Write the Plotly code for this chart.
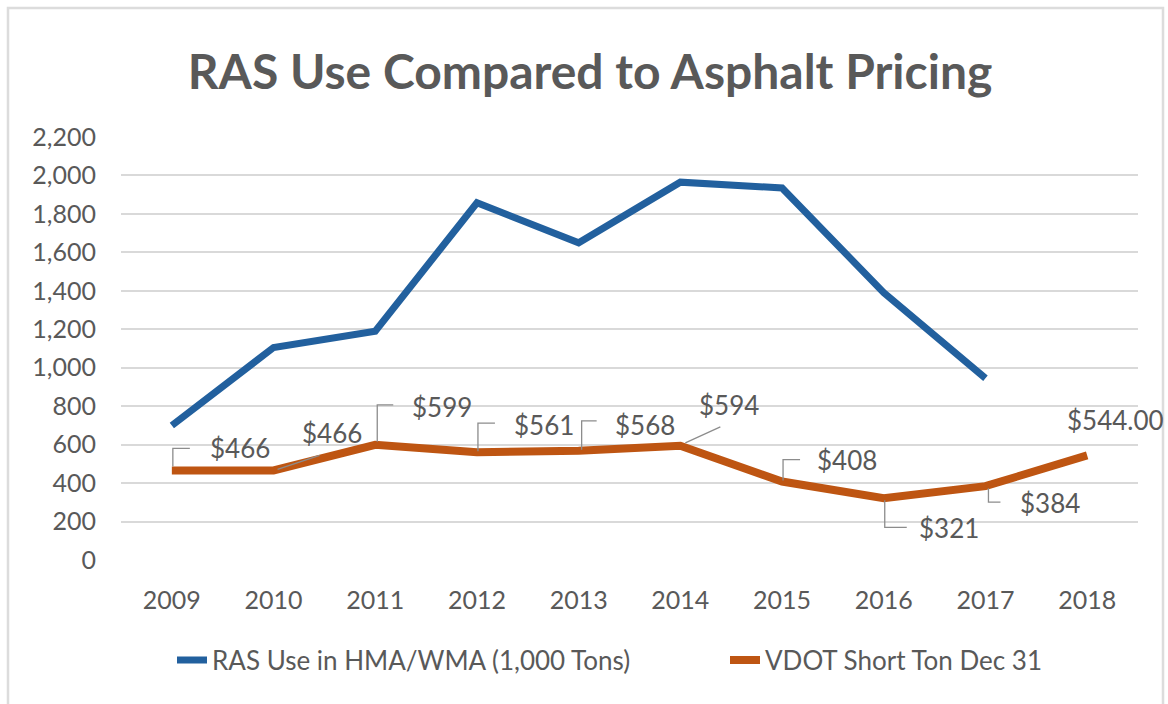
import plotly.graph_objects as go

# Chart data
years = [2009, 2010, 2011, 2012, 2013, 2014, 2015, 2016, 2017, 2018]
ras_use = [700, 1105, 1190, 1858, 1650, 1965, 1935, 1390, 945, None]  # 1,000 tons
vdot_price = [466, 466, 599, 561, 568, 594, 408, 321, 384, 544]
price_labels = ["$466", "$466", "$599", "$561", "$568", "$594", "$408", "$321", "$384", "$544.00"]
y_ticks = [0, 200, 400, 600, 800, 1000, 1200, 1400, 1600, 1800, 2000, 2200]

BLUE = "#22609E"
ORANGE = "#BE5512"
GREY_TEXT = "#595959"
GRID = "#D9D9D9"
FONT = "Lato"

# label placement: (text left offset, text vertical offset, leader path) in pixels from the point
label_layout = [
    (36, 22, "M1,4 L1,22 L18,22"),
    (26, 37, "M4,1 L46,15"),
    (35, 38, "M2,3 L2,40 L18,40"),
    (35, 27, "M1,1 L1,29 L18,29"),
    (34, 26, "M3,1 L3,30 L18,30"),
    (17, 41, "M5,3 L40,19"),
    (33, 22, "M1,1 L1,22 L18,22"),
    (33, -30, "M1,-2 L1,-29 L23,-29"),
    (33, -17, "M3,-2 L3,-16 L15,-16"),
    (-22, 35, None),
]

fig = go.Figure()
fig.add_trace(go.Scatter(
    x=years, y=ras_use, mode="lines", name="RAS Use in HMA/WMA (1,000 Tons)",
    line=dict(color=BLUE, width=7), connectgaps=False, legend="legend",
))
fig.add_trace(go.Scatter(
    x=years, y=vdot_price, mode="lines", name="VDOT Short Ton Dec 31",
    line=dict(color=ORANGE, width=8), legend="legend2",
))

annotations = []
shapes = []
for yr, val, txt, (dx, dy, path) in zip(years, vdot_price, price_labels, label_layout):
    annotations.append(dict(
        x=yr, y=val, xref="x", yref="y", text=txt, showarrow=False,
        xanchor="left", yanchor="middle", xshift=dx, yshift=dy,
        font=dict(family=FONT, size=26, color=GREY_TEXT),
    ))
    if path:
        shapes.append(dict(
            type="path", xref="x", yref="y", xsizemode="pixel", ysizemode="pixel",
            xanchor=yr, yanchor=val, path=path,
            line=dict(color="#8C8C8C", width=1.3), layer="above",
        ))

# outer chart frame
shapes.append(dict(
    type="rect", xref="paper", yref="paper",
    x0=(8 - 121) / 1017, x1=(1163 - 121) / 1017,
    y0=(560 - 712) / 423, y1=(560 - 8) / 423,
    line=dict(color="#DCDCDC", width=2.5), fillcolor="rgba(0,0,0,0)", layer="below",
))

legend_font = dict(family=FONT, size=26, color=GREY_TEXT)

fig.update_layout(
    width=1168, height=704,
    margin=dict(l=121, r=30, t=137, b=144),
    paper_bgcolor="white", plot_bgcolor="white",
    title=dict(
        text="<b>RAS Use Compared to Asphalt Pricing</b>",
        x=590 / 1168, xanchor="center", y=1 - 72 / 704, yanchor="middle",
        xref="container", yref="container",
        font=dict(family=FONT, size=48, color=GREY_TEXT),
    ),
    xaxis=dict(
        range=[2008.5, 2018.5], tickvals=years, tickformat="d",
        showgrid=False, zeroline=False, showline=False,
        ticks="", ticklabelstandoff=23,
        tickfont=dict(family=FONT, size=25, color=GREY_TEXT),
    ),
    yaxis=dict(
        range=[0, 2200], tickvals=y_ticks, tickformat=",d",
        showgrid=True, gridcolor=GRID, gridwidth=2,
        zeroline=False, showline=False, ticks="", ticklabelstandoff=24,
        tickfont=dict(family=FONT, size=25, color=GREY_TEXT),
    ),
    legend=dict(
        orientation="h", x=172 / 1168, xref="container", xanchor="left",
        y=1 - 660 / 704, yref="container", yanchor="middle",
        font=legend_font, bgcolor="rgba(0,0,0,0)",
    ),
    legend2=dict(
        orientation="h", x=725 / 1168, xref="container", xanchor="left",
        y=1 - 660 / 704, yref="container", yanchor="middle",
        font=legend_font, bgcolor="rgba(0,0,0,0)",
    ),
    showlegend=True,
    annotations=annotations,
    shapes=shapes,
)

fig.write_html("out.html")
